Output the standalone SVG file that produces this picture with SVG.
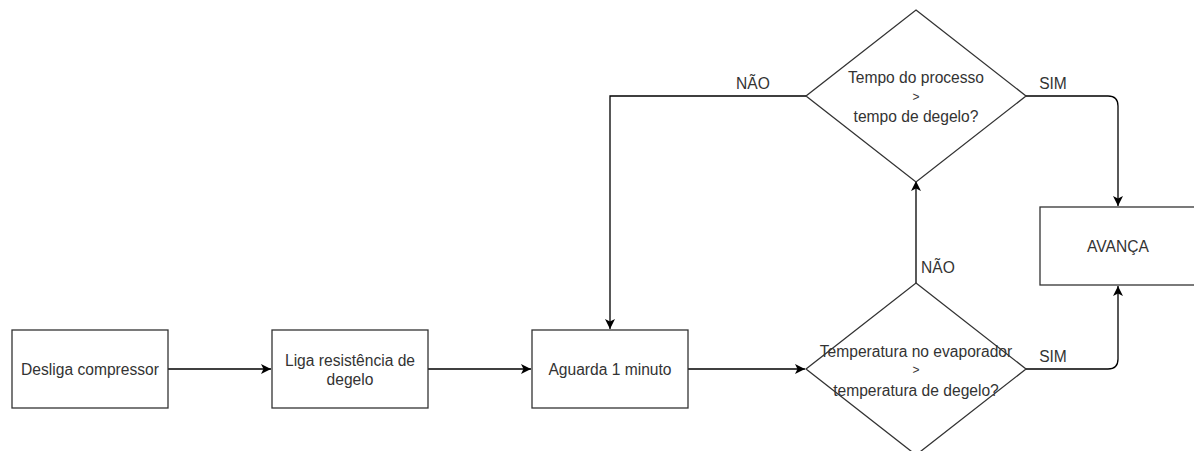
<svg xmlns="http://www.w3.org/2000/svg" width="1194" height="451" viewBox="0 0 1194 451">
  <style>
    .shape { fill: #ffffff; stroke: #333333; stroke-width: 1.3; }
    .edge { fill: none; stroke: #000000; stroke-width: 1.3; }
    .label { font-family: "Liberation Sans", Arial, sans-serif; font-size: 15.6px; fill: #333333; text-anchor: middle; dominant-baseline: central; }
    .gt { font-size: 12px; }
  </style>
  <defs>
    <marker id="arrow" viewBox="0 0 10 10" refX="10" refY="5" markerWidth="10" markerHeight="10" markerUnits="userSpaceOnUse" orient="auto">
      <path d="M0,0 L10,5 L0,10 L2.5,5 Z" fill="#000000"/>
    </marker>
  </defs>
  <rect width="1194" height="451" fill="#ffffff"/>

  <g id="connectors">
    <path class="edge" d="M168,369 H271" marker-end="url(#arrow)"/>
    <path class="edge" d="M428,369 H531" marker-end="url(#arrow)"/>
    <path class="edge" d="M688,369 H805" marker-end="url(#arrow)"/>
    <path class="edge" d="M806,96 H610 V329" marker-end="url(#arrow)"/>
    <path class="edge" d="M1026,96 H1108 Q1118,96 1118,106 V206" marker-end="url(#arrow)"/>
    <path class="edge" d="M916,283 V181" marker-end="url(#arrow)"/>
    <path class="edge" d="M1026,369 H1108 Q1118,369 1118,359 V286" marker-end="url(#arrow)"/>
    <text class="label" x="753" y="83">NÃO</text>
    <text class="label" x="1053" y="83">SIM</text>
    <text class="label" x="938" y="267">NÃO</text>
    <text class="label" x="1053" y="356">SIM</text>
  </g>

  <g id="desliga-compressor">
    <rect class="shape" x="12" y="330" width="156" height="78"/>
    <text class="label" x="90" y="369">Desliga compressor</text>
  </g>

  <g id="liga-resistencia">
    <rect class="shape" x="272" y="330" width="156" height="78"/>
    <text class="label" x="350" y="360">Liga resistência de</text>
    <text class="label" x="350" y="379">degelo</text>
  </g>

  <g id="aguarda-1-minuto">
    <rect class="shape" x="532" y="330" width="156" height="78"/>
    <text class="label" x="610" y="369">Aguarda 1 minuto</text>
  </g>

  <g id="decisao-temperatura">
    <path class="shape" d="M916,283 L1026,369 L916,455 L806,369 Z"/>
    <text class="label" x="916" y="351">Temperatura no evaporador</text>
    <text class="label gt" x="916" y="370">&gt;</text>
    <text class="label" x="916" y="390">temperatura de degelo?</text>
  </g>

  <g id="decisao-tempo">
    <path class="shape" d="M916,10 L1026,96 L916,182 L806,96 Z"/>
    <text class="label" x="916" y="77.5">Tempo do processo</text>
    <text class="label gt" x="916" y="97">&gt;</text>
    <text class="label" x="916" y="116.5">tempo de degelo?</text>
  </g>

  <g id="avanca">
    <rect class="shape" x="1040" y="207" width="156" height="78"/>
    <text class="label" x="1118" y="246">AVANÇA</text>
  </g>
</svg>
